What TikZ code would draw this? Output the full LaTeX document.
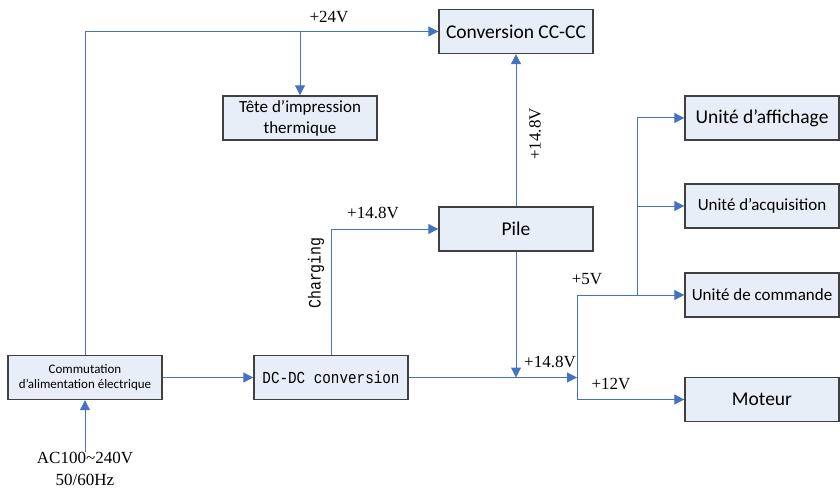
\documentclass[tikz,border=0pt]{standalone}
\usepackage{fontspec}
\setmainfont{Liberation Serif}
\newfontfamily\boxfont{Carlito}
\newfontfamily\typefont[FakeStretch=0.85]{Liberation Mono}
\usepackage{tikz}
\usetikzlibrary{arrows.meta,positioning}
\definecolor{wireblue}{RGB}{68,114,196}
\definecolor{boxfill}{RGB}{232,238,248}
\definecolor{boxline}{RGB}{64,64,64}
\tikzset{
  wire/.style={-{Triangle[length=10pt,width=10pt]}, line width=1pt, wireblue},
  blk/.style={rectangle, draw=boxline, line width=1.4pt, fill=boxfill, minimum width=154pt, minimum height=44pt, inner sep=0pt, align=center, font=\boxfont\fontsize{19.5}{23}\selectfont},
  blks/.style={blk, font=\boxfont\fontsize{17}{21}\selectfont},
  volt/.style={inner sep=0pt, font=\fontsize{17}{20}\selectfont},
}

\begin{document}
\begin{tikzpicture}[x=1pt, y=-1pt]
\useasboundingbox (0,0) rectangle (840,489);
% supply side
\node[blk] (conv) at (516,31.5) {Conversion CC-CC};
\node[blks] (tete) at (300,118) {Tête d’impression\\thermique};
\node[blk] (pile) at (516,229) {Pile};
\node[blk, font=\boxfont\fontsize{13}{15}\selectfont] (comm) at (85,377.5) {Commutation\\d’alimentation électrique};
\node[blk, font=\typefont\fontsize{16.8}{19}\selectfont] (dcdc) at (331,377.5) {DC-DC conversion};
% loads
\node[blk] (aff) at (762,118) {Unité d’affichage};
\node[blks] (acq) at (762,206) {Unité d’acquisition};
\node[blks] (cmd) at (762,295) {Unité de commande};
\node[blk] (mot) at (762,399.5) {Moteur};
% mains input
\node[volt, align=center, font=\fontsize{17}{22}\selectfont] (ac) at (85,469) {AC100\textasciitilde240V\\50/60Hz};
\coordinate (split) at (577,377.5);
\coordinate (bus) at (637,295);
% +24V rail
\draw[wire] (comm.north) |- (conv.west);
\draw[wire] (tete.north |- conv.west) -- (tete.north);
\draw[wire] (pile.north) -- (conv.south);
% input and charging
\draw[wire] (ac.north) -- (comm.south);
\draw[wire] (comm.east) -- (dcdc.west);
\draw[wire] (dcdc.north) |- (pile.west);
% distribution
\draw[wire] (dcdc.east) -- (split);
\draw[wire] (pile.south) -- (pile.south |- split);
\draw[wire] (split) |- (cmd.west);
\draw[wire] (split) |- (mot.west);
\draw[wire] (bus) |- (aff.west);
\draw[wire] (bus |- acq.west) -- (acq.west);
% voltage labels
\node[volt] (v24) at (329,17) {+24V};
\node[volt, rotate=90] (vconv) at (535,134) {+14.8V};
\node[volt] (vchg) at (373,213) {+14.8V};
\node[inner sep=0pt, rotate=90, font=\typefont\fontsize{17.5}{20}\selectfont] (chg) at (316,273) {Charging};
\node[volt] (vbat) at (550,362) {+14.8V};
\node[volt] (v5) at (587,279) {+5V};
\node[volt] (v12) at (611,384) {+12V};
\end{tikzpicture}
\end{document}
